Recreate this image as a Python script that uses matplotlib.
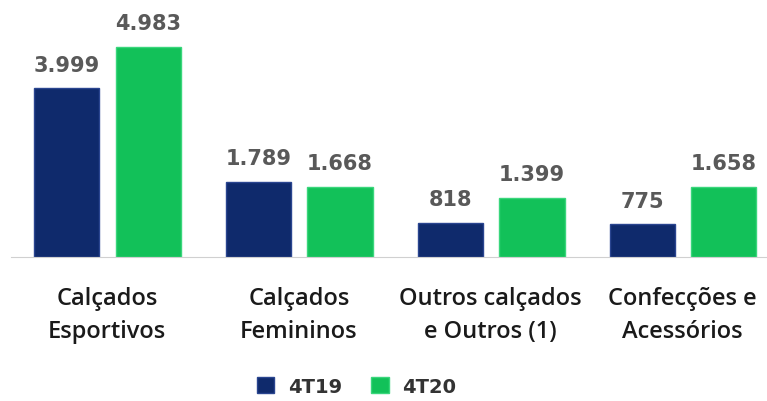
import matplotlib.pyplot as plt
import numpy as np

# dados do grafico
categorias = ["Calçados\nEsportivos", "Calçados\nFemininos",
              "Outros calçados\ne Outros (1)", "Confecções e\nAcessórios"]
serie_4t19 = [3999, 1789, 818, 775]
serie_4t20 = [4983, 1668, 1399, 1658]
rotulos_4t19 = ["3.999", "1.789", "818", "775"]
rotulos_4t20 = ["4.983", "1.668", "1.399", "1.658"]
legenda = ["4T19", "4T20"]

navy = "#0f2a6c"
green = "#12c159"

fig = plt.figure(figsize=(7.67, 4.02), dpi=100)
ax = fig.add_axes([11 / 767, 0.358, 1 - 11 / 767, 0.642])

x = np.arange(len(categorias))
w = 0.34
b1 = ax.bar(x - 0.21, serie_4t19, w, color=navy, edgecolor="#2a4590", linewidth=1, label=legenda[0])
b2 = ax.bar(x + 0.215, serie_4t20, w, color=green, edgecolor="#3ad67c", linewidth=1, label=legenda[1])

for bars, labs in ((b1, rotulos_4t19), (b2, rotulos_4t20)):
    for r, t in zip(bars, labs):
        ax.annotate(t, (r.get_x() + r.get_width() / 2, r.get_height()),
                    xytext=(0, 10), textcoords="offset points", ha="center", va="bottom",
                    fontsize=15, fontweight="bold", color="#595959", family="DejaVu Sans")

ax.set_xlim(-0.5, 3.44)
ax.set_ylim(0, 6122)
for s in ["top", "right", "left"]:
    ax.spines[s].set_visible(False)
ax.spines["bottom"].set_color("#d0d0d0")
ax.set_yticks([])
ax.set_xticks(x)
ax.set_xticklabels(categorias, fontsize=17, color="#1a1a1a", linespacing=1.5,
                   family="Open Sans", fontweight="semibold")
ax.tick_params(axis="x", length=0, pad=21)

fig.legend(loc="lower center", bbox_to_anchor=(0.465, -0.03), ncol=2, frameon=False,
           handlelength=0.9, handleheight=0.9, columnspacing=1.5,
           handletextpad=0.7, prop={"weight": "bold", "size": 14}, labelcolor="#333333")

fig.savefig("out.png", dpi=100)
